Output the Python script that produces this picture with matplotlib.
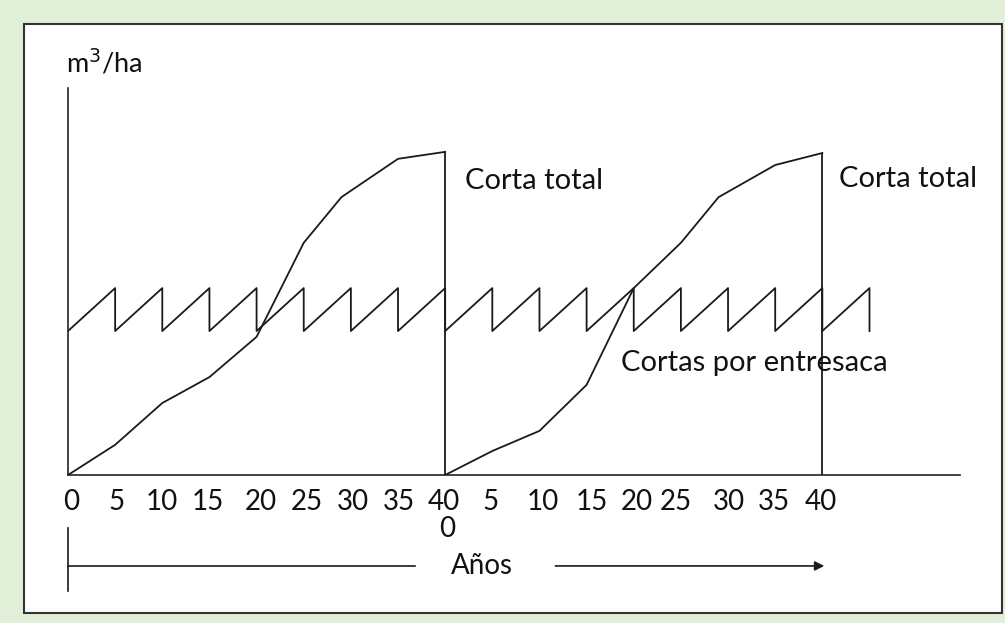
import matplotlib.pyplot as plt
from matplotlib.patches import Rectangle

plt.rcParams['font.family'] = ['Lato', 'DejaVu Sans']

# volumen en pie (m3/ha), dos turnos de corta total
years_1 = [0, 5, 10, 15, 20, 25, 29, 35, 40]
vol_1 = [0, 7.8, 18.6, 25.3, 35.7, 60, 71.8, 81.7, 83.5]
years_2 = [40, 45, 50, 55, 60, 65, 69, 75, 80]
vol_2 = [0, 6.2, 11.4, 23.3, 48.3, 60, 71.8, 80.1, 83.2]

# cortas por entresaca cada 5 años (diente de sierra)
saw_years = [0, 5, 5, 10, 10, 15, 15, 20, 20, 25, 25, 30, 30, 35, 35, 40, 40,
             45, 45, 50, 50, 55, 55, 60, 60, 65, 65, 70, 70, 75, 75, 80, 80, 85, 85]
saw_vol = [37.2, 48.3, 37.2, 48.3, 37.2, 48.3, 37.2, 48.3, 37.2, 48.3, 37.2, 48.3,
           37.2, 48.3, 37.2, 48.3, 37.2, 48.3, 37.2, 48.3, 37.2, 48.3, 37.2, 48.3,
           37.2, 48.3, 37.2, 48.3, 37.2, 48.3, 37.2, 48.3, 37.2, 48.3, 37.2]

cut_years = [40, 80]
cut_vol = [83.5, 83.2]

tick_pos = [0.3, 5.1, 10.0, 14.8, 20.5, 25.3, 30.2, 35.1, 39.9,
            44.8, 50.4, 55.5, 60.3, 64.5, 70.1, 74.9, 79.8]
tick_lab = ['0', '5', '10', '15', '20', '25', '30', '35', '40',
            '5', '10', '15', '20', '25', '30', '35', '40']

W, H = 1005, 623
fig = plt.figure(figsize=(W / 100, H / 100), dpi=100, facecolor='#e2efd9')
fig.patches.append(Rectangle((24 / W, 1 - 613 / H), (1002 - 24) / W, (613 - 24) / H,
                             transform=fig.transFigure, facecolor='white',
                             edgecolor='#333333', lw=1.5, zorder=-5))

ax = fig.add_axes([68 / W, (H - 475) / H, (960 - 68) / W, (475 - 88) / H])
ax.set_zorder(5)
ax.set_facecolor('none')
ax.set_xlim(0, 94.6)
ax.set_ylim(0, 100)
for s in ['top', 'right']:
    ax.spines[s].set_visible(False)
for s in ['left', 'bottom']:
    ax.spines[s].set_color('#222222')
    ax.spines[s].set_linewidth(1.2)
ax.set_yticks([])
ax.set_xticks(tick_pos, tick_lab)
ax.tick_params(axis='x', length=0, pad=10, labelsize=20, labelcolor='#111111')

lc = '#1a1a1a'
ax.plot(years_1, vol_1, color=lc, lw=1.3)
ax.plot(years_2, vol_2, color=lc, lw=1.3)
ax.plot(saw_years, saw_vol, color=lc, lw=1.3)
ax.vlines(cut_years, 0, cut_vol, color=lc, lw=1.3)

ax.text(42.1, 76.0, 'Corta total', fontsize=21, va='center', color='#111111')
ax.text(81.8, 76.4, 'Corta total', fontsize=21, va='center', color='#111111')
ax.text(58.6, 28.9, 'Cortas por entresaca', fontsize=21, va='center', color='#111111')
ax.text(40.2, -14, '0', fontsize=20, ha='center', va='center', color='#111111', clip_on=False)
ax.text(-0.2, 106.5, 'm$^3$/ha', fontsize=19.5, va='center', color='#111111', clip_on=False)

# eje de años con flecha
ax.plot([0, 0], [-13.7, -30], color=lc, lw=1.2, clip_on=False)
ax.plot([0, 36.8], [-23.5, -23.5], color=lc, lw=1.2, clip_on=False)
ax.text(43.9, -23.5, 'Años', fontsize=20, ha='center', va='center', color='#111111', clip_on=False)
ax.annotate('', xy=(80.5, -23.5), xytext=(51.4, -23.5), annotation_clip=False,
            arrowprops=dict(arrowstyle='-|>', color=lc, lw=1.2, mutation_scale=14))

fig.savefig('out.png', dpi=100, facecolor=fig.get_facecolor())
